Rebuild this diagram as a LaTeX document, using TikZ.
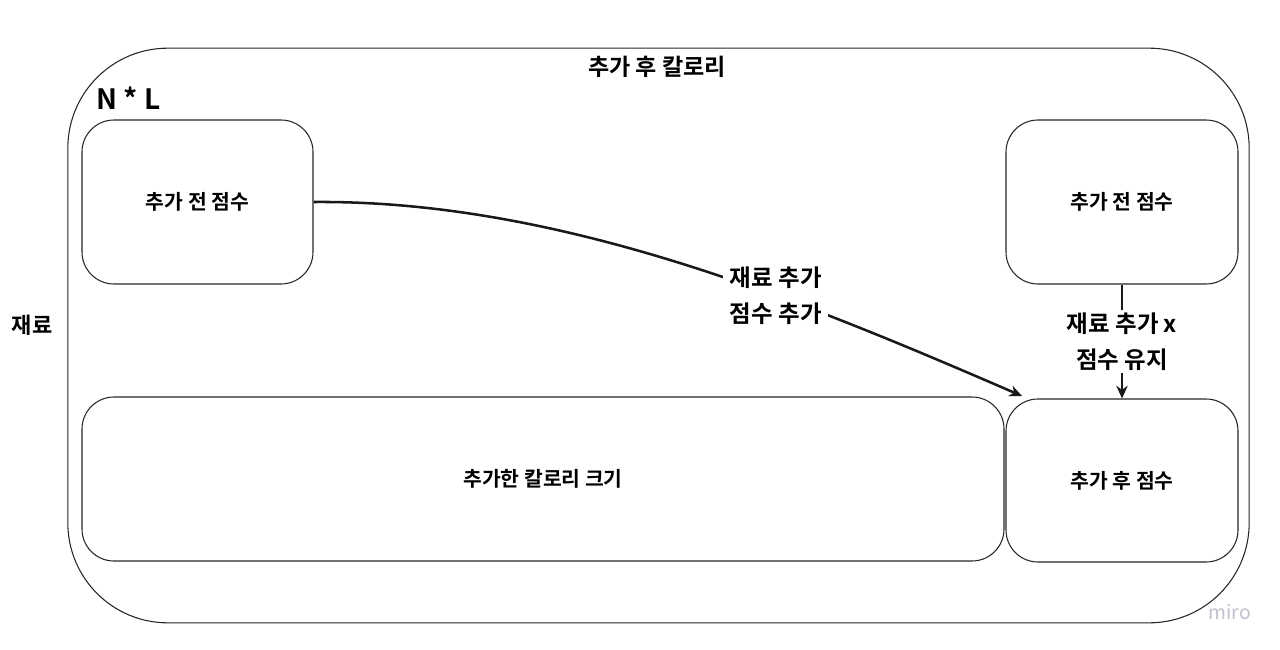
\documentclass[tikz,border=0pt]{standalone}
\usepackage{fontspec}
\setmainfont{Noto Sans CJK KR}[BoldFont={* Bold}]
\newfontfamily\krb{Noto Sans CJK KR Bold}
\usetikzlibrary{arrows.meta}
\definecolor{mirogray}{RGB}{192,192,204}
\begin{document}
\begin{tikzpicture}[x=0.75pt,y=-0.75pt,
  box/.style={draw=black!85,line width=0.8pt,rounded corners=24pt,inner sep=0pt,
    font=\krb\fontsize{15.3}{18}\selectfont},
  lbl/.style={font=\krb\fontsize{17.6}{27}\selectfont,fill=white,inner xsep=5pt,inner ysep=2pt,align=center},
  conn/.style={draw=black!90,line width=1.9pt,-{Stealth[length=9.5pt,width=8.5pt]}}]
\useasboundingbox (0,0) rectangle (1280,649);
\node[draw=black!85,line width=0.8pt,rounded corners=75pt,minimum width=886pt,minimum height=431pt,inner sep=0pt] (outer) at (658.5,335.5) {};
\node[font=\krb\fontsize{17.3}{20}\selectfont] (title) at (657,67) {추가 후 칼로리};
\node[font=\krb\fontsize{21}{24}\selectfont,anchor=west,inner sep=0pt] (nl) at (96,98) {N * L};
\node[font=\krb\fontsize{16.5}{19}\selectfont] (side) at (32,325) {재료};
\node[box,minimum width=173.25pt,minimum height=123pt] (b1) at (197.5,202) {추가 전 점수};
\node[box,minimum width=174pt,minimum height=123pt] (b2) at (1122,202) {추가 전 점수};
\node[box,minimum width=691.5pt,minimum height=123pt] (b3) at (543,479) {추가한 칼로리 크기};
\node[box,minimum width=174pt,minimum height=122.25pt] (b4) at (1122,480.5) {추가 후 점수};
\coordinate (t1) at (1022,396);
\draw[conn] (b1.east) .. controls (560,200) and (800,300) .. (t1)
  node[lbl,pos=0.64] (l1) {재료 추가\\점수 추가};
\draw[conn] (b2.south) -- (b4.north)
  node[lbl,midway] (l2) {재료 추가 x\\점수 유지};
\node[font=\fontsize{14.5}{16}\selectfont,text=mirogray,anchor=east,inner sep=0pt] (miro) at (1251,612) {miro};
\end{tikzpicture}
\end{document}
